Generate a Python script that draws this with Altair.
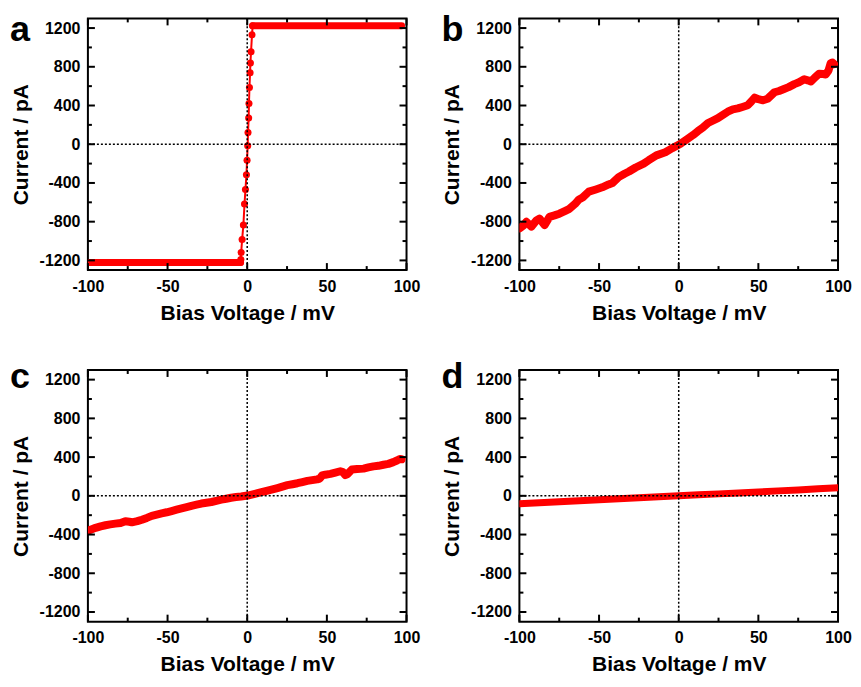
import altair as alt
import pandas as pd

RED = "#ff0000"
FONT = "Liberation Sans"
W, H = 319, 252

# ---- tick positions / labels ----
x_major = [-100, -50, 0, 50, 100]
x_minor = [-75, -25, 25, 75]
y_major = [-1200, -800, -400, 0, 400, 800, 1200]
y_minor = [-1000, -600, -200, 200, 600, 1000]
panel_letters = ["a", "b", "c", "d"]

# ---- panel a: plateaus + steep transition ----
a_plateau_start = [-100.0, 3.4]
a_plateau_end = [-4.2, 96.9]
a_plateau_level = [-1222, 1224]
a_trans_v = [-4.2, -4.0, -3.8, -3.2, -2.4, -1.7, -1.1, -0.5, -0.1, 0.3, 0.5, 0.9, 1.1, 1.4, 1.8, 2.0, 2.4, 3.0, 3.4]
a_trans_i = [-1222, -1190, -1119, -985, -834, -617, -467, -316, -165, -15, 120, 270, 420, 587, 738, 838, 956, 1130, 1224]

# ---- panel b ----
b_v = [-99.8, -97.5, -95.6, -92.5, -89.5, -87.4, -84.2, -81.1, -78.0, -74.9, -71.5, -68.6, -65.0, -62.6,
       -60.3, -56.4, -52.0, -48.0, -44.0, -41.6, -37.7, -34.0, -31.2, -27.0, -22.0, -18.8, -14.0, -8.4,
       -4.0, 0.9, 5.9, 9.0, 12.1, 15.0, 18.4, 21.0, 24.6, 27.5, 30.8, 34.0, 37.1, 40.0, 43.3, 45.5, 47.7,
       50.0, 52.9, 55.8, 60.1, 63.0, 66.1, 69.0, 72.6, 75.5, 78.8, 81.0, 83.0, 85.5, 88.1, 90.5, 92.3,
       94.0, 95.4, 96.5, 97.5]
b_i = [-868, -840, -801, -851, -790, -768, -835, -751, -735, -717, -690, -667, -615, -570,
       -550, -490, -467, -445, -415, -400, -340, -305, -282, -240, -200, -165, -115, -82,
       -40, 2, 59, 95, 136, 170, 219, 240, 269, 300, 336, 360, 370, 385, 403, 440, 481,
       465, 454, 470, 537, 550, 571, 590, 621, 640, 671, 660, 648, 690, 728, 725, 721,
       760, 838, 845, 828]

# ---- panel c ----
c_v = [-99.8, -97.5, -95.2, -92.0, -89.0, -86.0, -82.8, -79.5, -76.5, -74.0, -72.4, -69.0, -66.1, -63.0,
       -59.9, -56.8, -53.7, -50.5, -47.5, -44.3, -41.2, -38.0, -35.0, -31.8, -28.8, -25.6, -22.5, -19.4,
       -16.3, -13.2, -10.1, -7.0, -3.8, 0.3, 3.5, 6.5, 9.6, 12.8, 15.9, 19.0, 22.1, 25.2, 28.4, 31.5,
       34.6, 37.7, 40.8, 43.9, 45.5, 47.0, 49.0, 52.2, 55.3, 58.4, 60.0, 61.5, 63.0, 65.7, 69.0, 73.0,
       76.0, 79.2, 82.3, 85.5, 88.6, 91.7, 94.0, 95.8, 96.9]
c_i = [-360, -345, -331, -315, -304, -295, -287, -280, -262, -268, -274, -262, -247, -228,
       -207, -194, -181, -170, -157, -143, -130, -117, -104, -92, -80, -72, -64, -52,
       -40, -30, -20, -13, -7, 3, 15, 27, 40, 53, 66, 80, 95, 110, 120, 130,
       142, 154, 162, 170, 178, 210, 218, 227, 240, 254, 245, 214, 225, 271, 276, 281,
       293, 304, 310, 321, 330, 348, 365, 381, 378]

# ---- panel d ----
d_v = [-100, -87.5, -75, -62.5, -50, -37.5, -25, -12.5, 0, 12.5, 25, 37.5, 50, 62.5, 75, 87.5, 100]
d_i = [-82, -72, -62, -52, -41, -31, -21, -10, 0, 10, 20, 30, 40, 51, 61, 72, 83]

XT = "Bias Voltage / mV"
YT = "Current / pA"


def xenc(field):
    return alt.X(field, type="quantitative", title=XT,
                 scale=alt.Scale(domain=[-100, 100], nice=False, zero=False),
                 axis=alt.Axis(values=x_major, labelExpr="'' + datum.value"))


def yenc(field):
    return alt.Y(field, type="quantitative", title=YT,
                 scale=alt.Scale(domain=[-1300, 1300], nice=False, zero=False),
                 axis=alt.Axis(values=y_major, labelExpr="'' + datum.value"))


def frame_layers():
    layers = []
    for vals, ln in ((x_major, 7), (x_minor, 4)):
        df = pd.DataFrame({"t": vals})
        layers.append(alt.Chart(df).mark_rule(color="black", strokeWidth=2).encode(
            x=xenc("t"), y=alt.value(H), y2=alt.value(H - ln)))
        layers.append(alt.Chart(df).mark_rule(color="black", strokeWidth=2).encode(
            x=xenc("t"), y=alt.value(0), y2=alt.value(ln)))
    for vals, ln in ((y_major, 7), (y_minor, 4)):
        df = pd.DataFrame({"t": vals})
        layers.append(alt.Chart(df).mark_rule(color="black", strokeWidth=2).encode(
            y=yenc("t"), x=alt.value(0), x2=alt.value(ln)))
        layers.append(alt.Chart(df).mark_rule(color="black", strokeWidth=2).encode(
            y=yenc("t"), x=alt.value(W), x2=alt.value(W - ln)))
    z = pd.DataFrame({"z": [0]})
    layers.append(alt.Chart(z).mark_rule(color="black", strokeWidth=1.5, strokeDash=[2, 2]).encode(x=xenc("z")))
    layers.append(alt.Chart(z).mark_rule(color="black", strokeWidth=1.5, strokeDash=[2, 2]).encode(y=yenc("z")))
    return layers


def letter_layer(letter, ybase):
    df = pd.DataFrame({"t": [letter]})
    return alt.Chart(df).mark_text(font=FONT, fontSize=36, fontWeight="bold", color="black",
                                   align="left", baseline="alphabetic").encode(
        text="t:N", x=alt.value(-78), y=alt.value(ybase))


def thick_line(v, i, sw):
    df = pd.DataFrame({"V": v, "I": i})
    return alt.Chart(df).mark_line(color=RED, strokeWidth=sw, strokeJoin="round",
                                   strokeCap="round", clip=True).encode(
        x=xenc("V"), y=yenc("I"), order="V:Q")


# panel a
pa = pd.DataFrame({"s": a_plateau_start, "e": a_plateau_end, "lvl": a_plateau_level})
ta = pd.DataFrame({"V": a_trans_v, "I": a_trans_i})
panel_a = alt.layer(
    alt.Chart(pa).mark_rule(color=RED, strokeWidth=7, strokeCap="round", clip=True).encode(
        x=xenc("s"), x2="e", y=yenc("lvl")),
    alt.Chart(ta).mark_line(color=RED, strokeWidth=2).encode(x=xenc("V"), y=yenc("I")),
    alt.Chart(ta).mark_circle(color=RED, size=50, opacity=1).encode(x=xenc("V"), y=yenc("I")),
    *frame_layers(),
    letter_layer(panel_letters[0], 23),
).properties(width=W, height=H)

panel_b = alt.layer(thick_line(b_v, b_i, 8), *frame_layers(),
                    letter_layer(panel_letters[1], 23)).properties(width=W, height=H)
panel_c = alt.layer(thick_line(c_v, c_i, 8), *frame_layers(),
                    letter_layer(panel_letters[2], 18)).properties(width=W, height=H)
panel_d = alt.layer(thick_line(d_v, d_i, 7), *frame_layers(),
                    letter_layer(panel_letters[3], 18)).properties(width=W, height=H)

chart = alt.concat(panel_a, panel_b, panel_c, panel_d, columns=2,
                   spacing={"row": 100, "column": 113}, bounds="flush").properties(
    padding={"left": 1, "top": 3, "right": 0, "bottom": 0}
).configure_view(stroke="black", strokeWidth=2).configure_axis(
    domain=False, ticks=False, grid=False,
    labelFont=FONT, labelFontSize=16, labelFontWeight="bold", labelColor="black",
    titleFont=FONT, titleFontSize=21, titleFontWeight="bold", titleColor="black",
    labelPadding=8, titlePadding=8, labelFlush=False, labelOverlap=False,
)

chart.save("out.html", embed_options={"renderer": "svg", "actions": False})
